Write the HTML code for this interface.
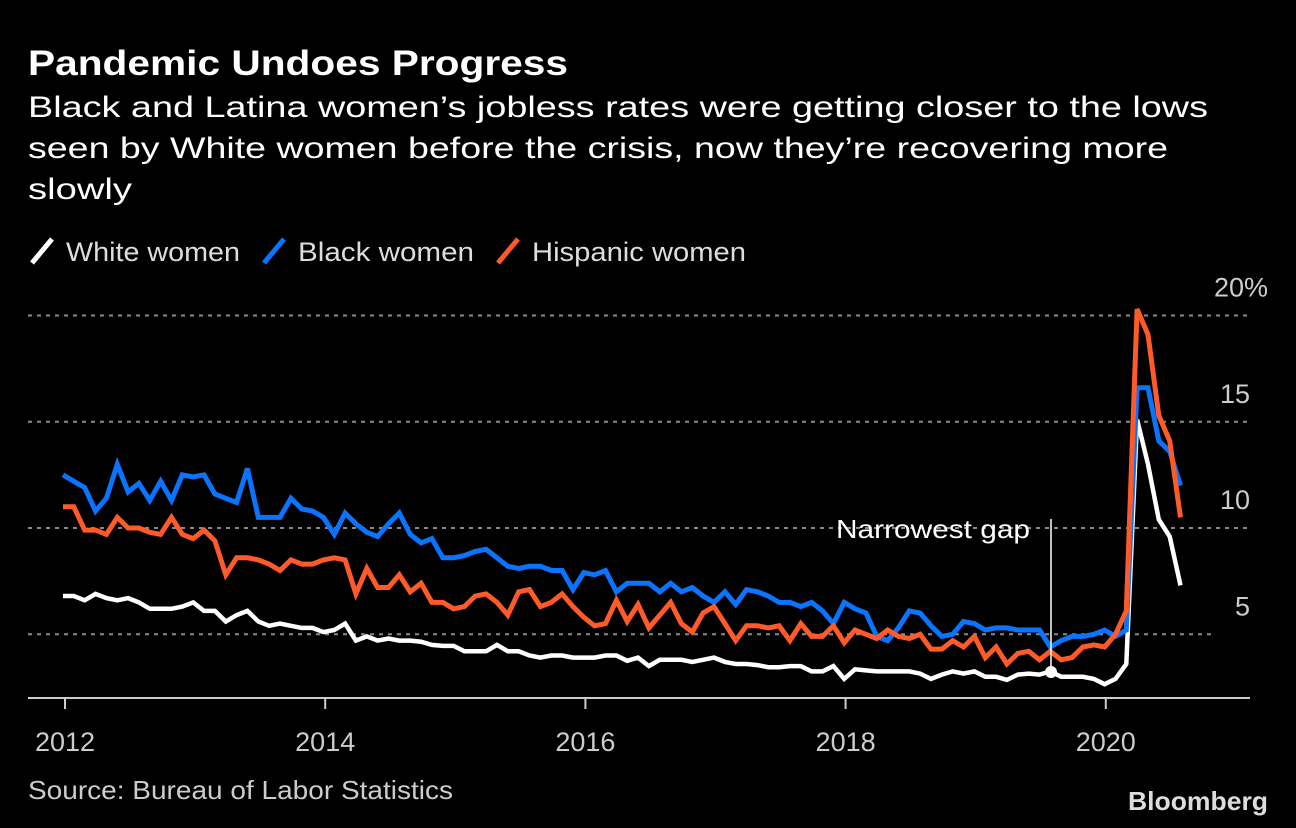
<!DOCTYPE html>
<html><head><meta charset="utf-8"><style>
html,body{margin:0;padding:0;background:#000;}
svg{display:block;font-family:"Liberation Sans","DejaVu Sans",sans-serif;}
</style></head><body>
<svg id="chart" width="1296" height="828" viewBox="0 0 1296 828" xmlns="http://www.w3.org/2000/svg">
<rect width="1296" height="828" fill="#000"/>
<text x="28" y="75" fill="#fff" font-size="35" font-weight="bold" textLength="540" lengthAdjust="spacingAndGlyphs">Pandemic Undoes Progress</text>
<g fill="#fff" font-size="30">
<text x="28" y="117" textLength="1180" lengthAdjust="spacingAndGlyphs">Black and Latina women’s jobless rates were getting closer to the lows</text>
<text x="28" y="158" textLength="1140" lengthAdjust="spacingAndGlyphs">seen by White women before the crisis, now they’re recovering more</text>
<text x="28" y="199" textLength="104" lengthAdjust="spacingAndGlyphs">slowly</text>
</g>
<g font-size="27" fill="#ddd">
<g><line x1="32" y1="263" x2="52" y2="239" stroke="#fff" stroke-width="5"/><text x="66" y="261" textLength="174" lengthAdjust="spacingAndGlyphs">White women</text></g>
<g><line x1="264" y1="263" x2="284" y2="239" stroke="#0a74ff" stroke-width="5"/><text x="298" y="261" textLength="176" lengthAdjust="spacingAndGlyphs">Black women</text></g>
<g><line x1="498" y1="263" x2="518" y2="239" stroke="#ff5a28" stroke-width="5"/><text x="532" y="261" textLength="214" lengthAdjust="spacingAndGlyphs">Hispanic women</text></g>
</g>
<g id="grid"></g>
<g id="xaxis"></g>
<g id="series"></g>
<g>
<line x1="1051" y1="519" x2="1051" y2="672" stroke="#fff" stroke-width="1.5"/>
<text x="1030" y="538" fill="#fff" font-size="26" text-anchor="end" textLength="194" lengthAdjust="spacingAndGlyphs">Narrowest gap</text>
<circle cx="1051" cy="672" r="6" fill="#fff"/>
</g>
<text x="28" y="799" fill="#ccc" font-size="26" textLength="425" lengthAdjust="spacingAndGlyphs">Source: Bureau of Labor Statistics</text>
<text x="1268" y="810" fill="#ddd" font-size="26" font-weight="bold" text-anchor="end" textLength="140" lengthAdjust="spacingAndGlyphs">Bloomberg</text>
</svg>
<script>
const yTicks = [5, 10, 15, 20];
const yTickLabels = ["5", "10", "15", "20%"];
const years = [2012, 2014, 2016, 2018, 2020];
const white = [6.8,6.8,6.6,6.9,6.7,6.6,6.7,6.5,6.2,6.2,6.2,6.3,6.5,6.1,6.1,5.6,5.9,6.1,5.6,5.4,5.5,5.4,5.3,5.3,5.1,5.2,5.5,4.7,4.9,4.7,4.8,4.7,4.7,4.65,4.5,4.45,4.45,4.2,4.2,4.2,4.5,4.2,4.2,4.0,3.9,4.0,4.0,3.9,3.9,3.9,4.0,4.0,3.75,3.9,3.5,3.8,3.8,3.8,3.7,3.8,3.9,3.7,3.6,3.6,3.55,3.45,3.45,3.5,3.5,3.25,3.25,3.5,2.9,3.35,3.3,3.25,3.25,3.25,3.25,3.15,2.9,3.1,3.25,3.15,3.25,3.0,3.0,2.85,3.1,3.15,3.1,3.25,3.0,3.0,3.0,2.9,2.65,2.9,3.6,15.1,13.0,10.4,9.6,7.3];
const black = [12.5,12.2,11.9,10.8,11.4,13.0,11.7,12.1,11.3,12.2,11.3,12.5,12.4,12.5,11.6,11.4,11.2,12.8,10.5,10.5,10.5,11.4,10.9,10.8,10.5,9.7,10.7,10.2,9.8,9.6,10.2,10.7,9.7,9.3,9.5,8.6,8.6,8.7,8.9,9.0,8.6,8.2,8.1,8.2,8.2,8.0,8.0,7.1,7.9,7.8,8.0,7.0,7.4,7.4,7.4,7.0,7.4,7.0,7.2,6.8,6.5,7.0,6.4,7.1,7.0,6.8,6.5,6.5,6.3,6.5,6.1,5.5,6.5,6.2,6.0,4.9,4.7,5.3,6.1,6.0,5.4,4.9,5.0,5.6,5.5,5.2,5.3,5.3,5.2,5.2,5.2,4.4,4.7,4.9,4.9,5.0,5.2,4.9,5.2,16.6,16.6,14.1,13.6,12.0];
const hispanic = [11.0,11.0,9.9,9.9,9.7,10.5,10.0,10.0,9.8,9.7,10.5,9.7,9.5,9.9,9.4,7.8,8.6,8.6,8.5,8.3,8.0,8.5,8.3,8.3,8.5,8.6,8.5,6.9,8.1,7.2,7.2,7.8,7.0,7.4,6.5,6.5,6.2,6.3,6.8,6.9,6.5,5.9,7.0,7.1,6.3,6.5,6.9,6.3,5.8,5.4,5.5,6.6,5.6,6.4,5.3,5.9,6.5,5.5,5.1,6.0,6.3,5.5,4.7,5.4,5.4,5.3,5.4,4.7,5.5,4.9,4.9,5.4,4.6,5.2,5.0,4.8,5.2,4.9,4.8,5.0,4.3,4.3,4.7,4.4,4.9,3.9,4.4,3.6,4.1,4.2,3.8,4.2,3.8,3.9,4.4,4.5,4.4,5.0,6.1,20.3,19.1,15.3,14.1,10.5];

const NS = "http://www.w3.org/2000/svg";
function yScale(v){ return 740.5 - v * 21.25; }
function xScale(i){ return 63 + i * 10.85; }
function yearX(yr){ return 65 + (yr - 2012) * 130.1; }
function mk(tag, attrs, parent){ const e=document.createElementNS(NS,tag); for(const k in attrs) e.setAttribute(k, attrs[k]); parent.appendChild(e); return e; }

const grid = document.getElementById('grid');
yTicks.forEach((t, i) => {
  const y = yScale(t);
  const ln = mk('line', {x1:28, x2: t===5?1215:1250, y1:y, y2:y, stroke:'#8a8a8a', 'stroke-width':2, 'stroke-dasharray':'4 5'}, grid);
  
  
  const tx = mk('text', {x:1250, y:y-19, fill:'#ccc', 'font-size':27, 'text-anchor':'end'}, grid);
  if (t===20) tx.setAttribute('x', 1268);
  tx.textContent = yTickLabels[i];
  
  
});

const xa = document.getElementById('xaxis');
const axis = mk('line', {x1:28, x2:1250, y1:698, y2:698, stroke:'#ccc', 'stroke-width':2}, xa);


years.forEach(yr => {
  const x = yearX(yr);
  const tk = mk('line', {x1:x, x2:x, y1:698, y2:709, stroke:'#ccc', 'stroke-width':2}, xa);
  
  
  const tl = mk('text', {x:x, y:751, fill:'#ccc', 'font-size':27, 'text-anchor':'middle'}, xa);
  tl.textContent = String(yr);
  
  
});

const sg = document.getElementById('series');
function drawLine(data, color, w, name){
  const pts = data.map((v,i) => xScale(i).toFixed(1) + ',' + yScale(v).toFixed(1)).join(' ');
  const pl = mk('polyline', {points:pts, fill:'none', stroke:color, 'stroke-width':w, 'stroke-linejoin':'miter', 'stroke-miterlimit':3}, sg);
  
  
}
drawLine(white, '#ffffff', 4.5, 'line-white-women');
drawLine(black, '#0a74ff', 5, 'line-black-women');
drawLine(hispanic, '#ff5a28', 5, 'line-hispanic-women');
</script>
</body></html>
